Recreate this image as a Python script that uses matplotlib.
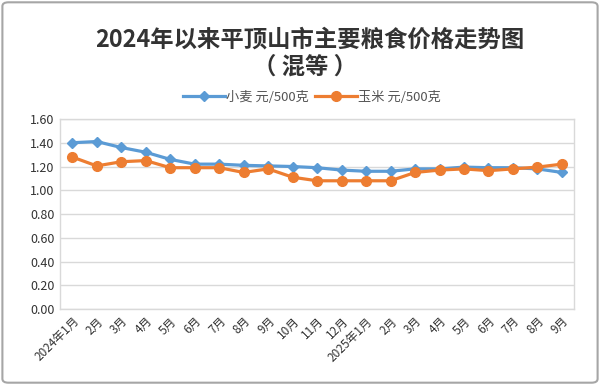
import matplotlib
matplotlib.use('Agg')
import matplotlib.pyplot as plt
from matplotlib.patches import FancyBboxPatch
from matplotlib.legend_handler import HandlerLine2D

plt.rcParams['font.family'] = ['Noto Sans CJK SC', 'DejaVu Sans']

months = ['2024年1月', '2月', '3月', '4月', '5月', '6月', '7月', '8月', '9月', '10月', '11月', '12月',
          '2025年1月', '2月', '3月', '4月', '5月', '6月', '7月', '8月', '9月']
wheat = [1.40, 1.41, 1.36, 1.32, 1.26, 1.22, 1.22, 1.21, 1.205, 1.20, 1.19, 1.17,
         1.16, 1.16, 1.18, 1.18, 1.195, 1.19, 1.19, 1.18, 1.15]
corn = [1.28, 1.205, 1.24, 1.25, 1.19, 1.19, 1.19, 1.15, 1.18, 1.11, 1.08, 1.08,
        1.08, 1.08, 1.15, 1.17, 1.18, 1.165, 1.18, 1.195, 1.22]
yticks = [0.0, 0.2, 0.4, 0.6, 0.8, 1.0, 1.2, 1.4, 1.6]


# excel puts the legend marker at the end of the line sample
class EndMarker(HandlerLine2D):
    def get_xdata(self, legend, xdescent, ydescent, width, height, fontsize):
        xdata, xm = super().get_xdata(legend, xdescent, ydescent, width, height, fontsize)
        return xdata, [xdata[-1]]


fig = plt.figure(figsize=(6, 3.85), dpi=100)
ax = fig.add_axes([0.1, 0.197, 0.857, 0.494])

x = range(len(months))
l1, = ax.plot(x, wheat, color='#5B9BD5', lw=2.3, marker='D', ms=5, label='小麦 元/500克', zorder=3)
l2, = ax.plot(x, corn, color='#ED7D31', lw=2.3, marker='o', ms=7, label='玉米 元/500克', zorder=3)

ax.set_xlim(-0.5, len(months) - 0.5)
ax.set_ylim(0, 1.6)
ax.set_yticks(yticks)
ax.set_yticklabels(['%.2f' % v for v in yticks], fontsize=9, color='#333333')
ax.set_xticks(list(x))
ax.set_xticklabels(months, rotation=45, ha='right', rotation_mode='anchor', fontsize=8.5, color='#333333')
ax.tick_params(length=0, pad=4)
ax.grid(axis='y', color='#D9D9D9', lw=1)
ax.set_axisbelow(True)
for s in ax.spines.values():
    s.set_color('#D9D9D9')
    s.set_linewidth(1)

fig.text(0.517, 0.897, '2024年以来平顶山市主要粮食价格走势图', ha='center', va='center',
         fontsize=16.8, fontweight='bold', color='#333333')
fig.text(0.509, 0.826, '（ 混等 ）', ha='center', va='center',
         fontsize=16.8, fontweight='bold', color='#333333')

fig.legend(handles=[l1, l2], loc='center', bbox_to_anchor=(0.52, 0.748), ncol=2, frameon=False, fontsize=9.5,
           handlelength=3.2, columnspacing=0.4, handletextpad=0.1, labelcolor='#555555',
           handler_map={l1: EndMarker(), l2: EndMarker()})

fig.patches.append(FancyBboxPatch((0.004, 0.006), 0.992, 0.988, boxstyle='round,pad=0,rounding_size=0.01',
                                  transform=fig.transFigure, fill=False, ec='#A6A6A6', lw=1.5))

fig.savefig('out.png', dpi=100)
